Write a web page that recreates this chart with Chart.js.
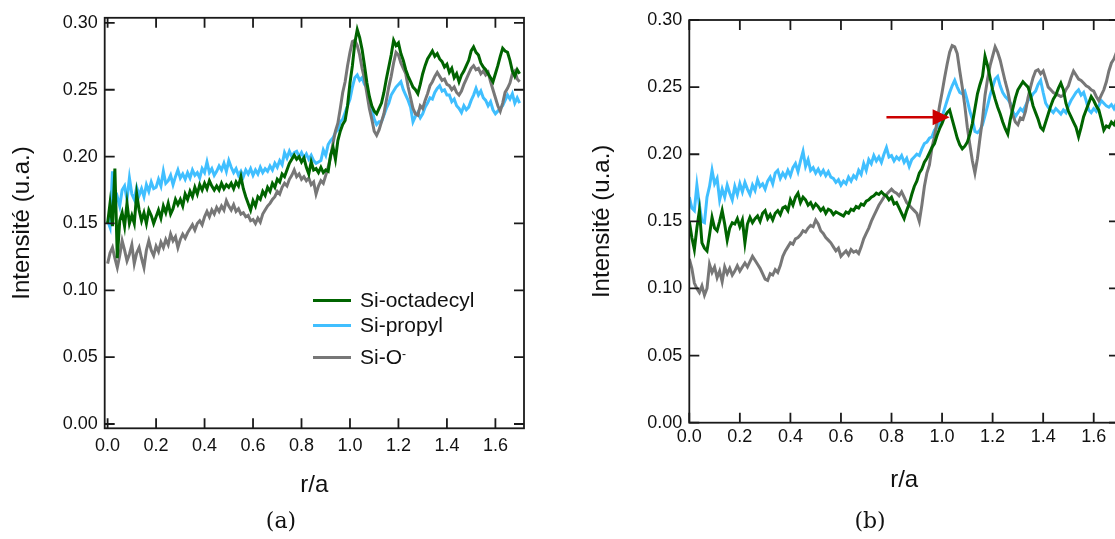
<!DOCTYPE html>
<html>
<head>
<title>Intensité r/a</title>
<script src="https://cdn.jsdelivr.net/npm/chart.js"></script>
<style>
    html, body {
        margin: 0;
        padding: 0;
        width: 1115px;
        height: 539px;
        overflow: hidden;
        background: #fff;
        font-family: "Liberation Sans", Arial, sans-serif;
    }
    canvas { position: absolute; top: 0; }
    #chartA { left: 0; }
    #chartB { left: 580px; }
    .leg {
        position: absolute;
        height: 24px;
        display: flex;
        align-items: center;
        font-size: 21px;
        color: #111;
    }
    .leg span.line {
        display: inline-block;
        width: 38px;
        height: 3px;
        margin-right: 9px;
    }
    .leg sup { font-size: 12px; position: relative; top: -3px; }
    .cap {
        position: absolute;
        top: 508px;
        font-family: "DejaVu Serif", "Liberation Serif", serif;
        font-size: 22px;
        color: #111;
        width: 60px;
        text-align: center;
    }
</style>
</head>
<body>

<canvas id="chartA" width="560" height="539"></canvas>
<canvas id="chartB" width="580" height="539"></canvas>

<div class="leg" style="left:313px; top:288px;"><span class="line" style="background:#006400"></span>Si-octadecyl</div>
<div class="leg" style="left:313px; top:313px;"><span class="line" style="background:#40bfff"></span>Si-propyl</div>
<div class="leg" style="left:313px; top:345px;"><span class="line" style="background:#777777"></span>Si-O<sup>-</sup></div>

<div class="cap" style="left:251px;">(a)</div>
<div class="cap" style="left:840px;">(b)</div>

<script>
// r/a sampling positions (shared by all curves)
var rValues = [
    0.00,0.01,0.02,0.03,0.04,0.05,0.06,0.07,0.08,0.09,
    0.10,0.11,0.12,0.13,0.14,0.15,0.16,0.17,0.18,0.19,
    0.20,0.21,0.22,0.23,0.24,0.25,0.26,0.27,0.28,0.29,
    0.30,0.31,0.32,0.33,0.34,0.35,0.36,0.37,0.38,0.39,
    0.40,0.41,0.42,0.43,0.44,0.45,0.46,0.47,0.48,0.49,
    0.50,0.51,0.52,0.53,0.54,0.55,0.56,0.57,0.58,0.59,
    0.60,0.61,0.62,0.63,0.64,0.65,0.66,0.67,0.68,0.69,
    0.70,0.71,0.72,0.73,0.74,0.75,0.76,0.77,0.78,0.79,
    0.80,0.81,0.82,0.83,0.84,0.85,0.86,0.87,0.88,0.89,
    0.90,0.91,0.92,0.93,0.94,0.95,0.96,0.97,0.98,0.99,
    1.00,1.01,1.02,1.03,1.04,1.05,1.06,1.07,1.08,1.09,
    1.10,1.11,1.12,1.13,1.14,1.15,1.16,1.17,1.18,1.19,
    1.20,1.21,1.22,1.23,1.24,1.25,1.26,1.27,1.28,1.29,
    1.30,1.31,1.32,1.33,1.34,1.35,1.36,1.37,1.38,1.39,
    1.40,1.41,1.42,1.43,1.44,1.45,1.46,1.47,1.48,1.49,
    1.50,1.51,1.52,1.53,1.54,1.55,1.56,1.57,1.58,1.59,
    1.60,1.61,1.62,1.63,1.64,1.65,1.66,1.67,1.68,1.69,
    1.70
];

// panel (a)
var aOctadecyl = [
    0.150,0.165,0.148,0.191,0.124,0.152,0.158,0.148,0.165,0.150,
    0.156,0.150,0.172,0.160,0.152,0.158,0.150,0.160,0.156,0.150,
    0.155,0.160,0.154,0.163,0.158,0.165,0.157,0.161,0.168,0.164,
    0.168,0.163,0.172,0.168,0.174,0.170,0.177,0.172,0.179,0.175,
    0.180,0.176,0.182,0.178,0.175,0.178,0.175,0.180,0.176,0.179,
    0.177,0.180,0.176,0.181,0.178,0.185,0.176,0.170,0.165,0.160,
    0.167,0.163,0.170,0.168,0.174,0.171,0.177,0.174,0.180,0.177,
    0.183,0.181,0.187,0.185,0.190,0.195,0.198,0.201,0.198,0.200,
    0.196,0.199,0.192,0.187,0.196,0.190,0.191,0.188,0.192,0.188,
    0.190,0.189,0.201,0.207,0.198,0.212,0.219,0.224,0.227,0.238,
    0.255,0.268,0.285,0.295,0.289,0.280,0.268,0.255,0.245,0.238,
    0.234,0.232,0.236,0.240,0.248,0.258,0.267,0.276,0.287,0.283,
    0.285,0.277,0.272,0.265,0.260,0.256,0.252,0.250,0.247,0.254,
    0.262,0.268,0.273,0.276,0.279,0.275,0.277,0.273,0.271,0.267,
    0.269,0.263,0.266,0.259,0.262,0.256,0.261,0.264,0.268,0.272,
    0.279,0.282,0.278,0.276,0.270,0.267,0.265,0.262,0.259,0.256,
    0.262,0.268,0.275,0.281,0.279,0.278,0.272,0.264,0.260,0.265,
    0.262
];
var aPropyl = [
    0.152,0.147,0.189,0.165,0.170,0.163,0.175,0.178,0.168,0.184,
    0.172,0.168,0.177,0.171,0.176,0.170,0.179,0.174,0.181,0.176,
    0.177,0.183,0.178,0.189,0.180,0.182,0.186,0.179,0.185,0.190,
    0.184,0.187,0.183,0.188,0.184,0.190,0.186,0.188,0.184,0.191,
    0.188,0.196,0.188,0.191,0.186,0.189,0.193,0.190,0.195,0.189,
    0.197,0.192,0.188,0.191,0.186,0.189,0.185,0.190,0.187,0.191,
    0.186,0.190,0.187,0.192,0.188,0.191,0.189,0.193,0.190,0.195,
    0.192,0.197,0.194,0.203,0.199,0.204,0.200,0.203,0.204,0.200,
    0.203,0.199,0.202,0.198,0.201,0.197,0.195,0.196,0.197,0.205,
    0.201,0.209,0.212,0.214,0.218,0.220,0.226,0.228,0.233,0.238,
    0.243,0.252,0.259,0.261,0.257,0.259,0.254,0.252,0.243,0.236,
    0.228,0.224,0.226,0.226,0.231,0.236,0.240,0.246,0.249,0.252,
    0.254,0.256,0.250,0.246,0.242,0.237,0.226,0.230,0.233,0.229,
    0.232,0.237,0.240,0.244,0.243,0.248,0.251,0.253,0.249,0.250,
    0.246,0.246,0.241,0.243,0.238,0.236,0.233,0.238,0.235,0.237,
    0.242,0.246,0.251,0.246,0.249,0.244,0.242,0.238,0.241,0.235,
    0.232,0.234,0.236,0.238,0.242,0.246,0.243,0.247,0.240,0.244,
    0.240
];
var aSiO = [
    0.120,0.128,0.132,0.124,0.117,0.126,0.137,0.130,0.122,0.127,
    0.134,0.120,0.128,0.132,0.124,0.117,0.130,0.137,0.130,0.126,
    0.133,0.129,0.136,0.132,0.138,0.134,0.142,0.137,0.140,0.132,
    0.138,0.142,0.139,0.143,0.146,0.149,0.145,0.150,0.152,0.149,
    0.155,0.159,0.155,0.160,0.157,0.162,0.159,0.163,0.160,0.167,
    0.163,0.160,0.164,0.159,0.161,0.157,0.158,0.155,0.156,0.152,
    0.153,0.150,0.154,0.151,0.157,0.160,0.163,0.165,0.168,0.170,
    0.174,0.172,0.177,0.180,0.178,0.183,0.186,0.190,0.185,0.187,
    0.183,0.185,0.182,0.184,0.179,0.181,0.172,0.178,0.182,0.180,
    0.186,0.192,0.200,0.210,0.219,0.225,0.236,0.248,0.256,0.268,
    0.278,0.286,0.287,0.283,0.276,0.266,0.258,0.247,0.236,0.228,
    0.219,0.216,0.220,0.226,0.232,0.242,0.252,0.260,0.270,0.278,
    0.276,0.270,0.266,0.262,0.252,0.244,0.236,0.232,0.231,0.238,
    0.236,0.242,0.247,0.253,0.256,0.260,0.263,0.260,0.257,0.258,
    0.254,0.253,0.250,0.252,0.248,0.246,0.249,0.254,0.258,0.262,
    0.266,0.268,0.265,0.266,0.262,0.264,0.261,0.263,0.256,0.250,
    0.244,0.238,0.234,0.240,0.248,0.251,0.255,0.262,0.264,0.258,
    0.256
];

// panel (b)
var bOctadecyl = [
    0.150,0.138,0.129,0.145,0.158,0.134,0.130,0.128,0.140,0.153,
    0.145,0.143,0.150,0.158,0.148,0.136,0.145,0.149,0.148,0.152,
    0.146,0.151,0.134,0.148,0.153,0.149,0.152,0.154,0.150,0.156,
    0.158,0.152,0.155,0.151,0.156,0.158,0.155,0.160,0.161,0.158,
    0.166,0.162,0.168,0.171,0.164,0.168,0.166,0.162,0.164,0.160,
    0.163,0.161,0.158,0.160,0.156,0.159,0.158,0.155,0.157,0.156,
    0.155,0.154,0.157,0.156,0.159,0.158,0.161,0.160,0.163,0.162,
    0.165,0.166,0.168,0.169,0.171,0.170,0.172,0.170,0.169,0.166,
    0.168,0.163,0.164,0.160,0.156,0.152,0.158,0.163,0.170,0.176,
    0.180,0.186,0.189,0.194,0.197,0.201,0.205,0.208,0.214,0.219,
    0.223,0.228,0.231,0.233,0.226,0.219,0.212,0.207,0.204,0.206,
    0.209,0.215,0.223,0.234,0.245,0.252,0.258,0.273,0.266,0.257,
    0.248,0.241,0.235,0.230,0.224,0.219,0.215,0.226,0.234,0.242,
    0.248,0.251,0.254,0.252,0.250,0.244,0.236,0.231,0.226,0.220,
    0.218,0.224,0.230,0.236,0.241,0.244,0.249,0.253,0.248,0.238,
    0.232,0.228,0.224,0.220,0.213,0.220,0.228,0.233,0.238,0.243,
    0.240,0.236,0.233,0.226,0.218,0.221,0.220,0.224,0.222,0.226,
    0.224
];
var bPropyl = [
    0.168,0.160,0.158,0.177,0.162,0.150,0.149,0.168,0.176,0.188,
    0.178,0.182,0.166,0.174,0.168,0.177,0.171,0.166,0.176,0.170,
    0.178,0.172,0.179,0.174,0.170,0.177,0.173,0.181,0.176,0.178,
    0.174,0.180,0.183,0.178,0.186,0.188,0.182,0.186,0.183,0.188,
    0.184,0.190,0.193,0.187,0.195,0.202,0.191,0.196,0.188,0.190,
    0.186,0.189,0.185,0.188,0.184,0.187,0.183,0.182,0.179,0.181,
    0.177,0.180,0.178,0.183,0.180,0.184,0.182,0.188,0.185,0.193,
    0.188,0.196,0.193,0.199,0.195,0.198,0.194,0.200,0.205,0.198,
    0.199,0.195,0.198,0.196,0.199,0.194,0.197,0.191,0.196,0.198,
    0.200,0.199,0.204,0.208,0.209,0.212,0.213,0.218,0.220,0.223,
    0.228,0.234,0.240,0.246,0.251,0.255,0.250,0.246,0.245,0.247,
    0.240,0.232,0.226,0.217,0.216,0.218,0.222,0.229,0.236,0.244,
    0.250,0.256,0.258,0.251,0.246,0.243,0.241,0.238,0.232,0.228,
    0.231,0.234,0.232,0.236,0.240,0.242,0.245,0.247,0.252,0.255,
    0.246,0.238,0.235,0.233,0.231,0.234,0.232,0.230,0.233,0.231,
    0.236,0.240,0.243,0.246,0.248,0.244,0.246,0.240,0.233,0.231,
    0.234,0.232,0.236,0.240,0.238,0.236,0.235,0.237,0.234,0.238,
    0.236
];
var bSiO = [
    0.122,0.115,0.104,0.100,0.097,0.102,0.095,0.100,0.118,0.112,
    0.116,0.108,0.113,0.105,0.116,0.111,0.115,0.110,0.113,0.117,
    0.113,0.116,0.119,0.116,0.120,0.124,0.121,0.118,0.115,0.111,
    0.107,0.106,0.111,0.110,0.114,0.112,0.117,0.124,0.128,0.131,
    0.134,0.133,0.137,0.138,0.140,0.143,0.142,0.145,0.147,0.146,
    0.151,0.148,0.143,0.141,0.138,0.136,0.134,0.131,0.128,0.130,
    0.124,0.126,0.128,0.125,0.129,0.127,0.128,0.126,0.131,0.137,
    0.141,0.145,0.150,0.154,0.158,0.162,0.165,0.168,0.170,0.172,
    0.174,0.172,0.171,0.169,0.172,0.168,0.164,0.162,0.160,0.158,
    0.156,0.150,0.162,0.176,0.186,0.192,0.205,0.213,0.224,0.236,
    0.246,0.257,0.267,0.276,0.281,0.280,0.275,0.262,0.250,0.236,
    0.220,0.207,0.195,0.186,0.197,0.212,0.226,0.244,0.256,0.266,
    0.273,0.280,0.276,0.270,0.262,0.254,0.247,0.237,0.229,0.224,
    0.222,0.227,0.226,0.232,0.242,0.250,0.257,0.262,0.263,0.260,
    0.262,0.256,0.250,0.248,0.246,0.245,0.244,0.243,0.244,0.248,
    0.251,0.257,0.262,0.259,0.256,0.255,0.253,0.251,0.250,0.248,
    0.247,0.243,0.240,0.244,0.248,0.254,0.262,0.268,0.271,0.276,
    0.278
];

var xTicks = [0.0, 0.2, 0.4, 0.6, 0.8, 1.0, 1.2, 1.4, 1.6];
var yTicks = [0.00, 0.05, 0.10, 0.15, 0.20, 0.25, 0.30];

// red arrow in panel (b), in data units
var arrowFrom = { x: 0.78, y: 0.2275 };
var arrowTo = { x: 1.03, y: 0.2275 };

var GREEN = '#006400', BLUE = '#40bfff', GREY = '#777777', INK = '#1a1a1a';

function points(ys) {
    return rValues.map(function (r, i) { return { x: r, y: ys[i] }; });
}

// box frame with inward ticks on all four sides
var framePlugin = {
    id: 'frame',
    afterDatasetsDraw: function (chart) {
        var ctx = chart.ctx, a = chart.chartArea;
        var xs = chart.scales.x, ys = chart.scales.y;
        var len = 10;
        ctx.save();
        ctx.strokeStyle = INK;
        ctx.lineWidth = 1.8;
        ctx.strokeRect(a.left, a.top, a.right - a.left, a.bottom - a.top);
        ctx.beginPath();
        xs.ticks.forEach(function (t) {
            var p = xs.getPixelForValue(t.value);
            ctx.moveTo(p, a.bottom); ctx.lineTo(p, a.bottom - len);
            ctx.moveTo(p, a.top); ctx.lineTo(p, a.top + len);
        });
        ys.ticks.forEach(function (t) {
            var p = ys.getPixelForValue(t.value);
            ctx.moveTo(a.left, p); ctx.lineTo(a.left + len, p);
            ctx.moveTo(a.right, p); ctx.lineTo(a.right - len, p);
        });
        ctx.stroke();
        ctx.restore();
    }
};

var arrowPlugin = {
    id: 'arrow',
    afterDatasetsDraw: function (chart) {
        if (!chart.options.plugins.arrow) return;
        var ctx = chart.ctx, xs = chart.scales.x, ys = chart.scales.y;
        var x0 = xs.getPixelForValue(arrowFrom.x), y0 = ys.getPixelForValue(arrowFrom.y);
        var x1 = xs.getPixelForValue(arrowTo.x), y1 = ys.getPixelForValue(arrowTo.y);
        var head = 17, half = 8;
        ctx.save();
        ctx.strokeStyle = '#cc0000';
        ctx.fillStyle = '#cc0000';
        ctx.lineWidth = 2.5;
        ctx.beginPath();
        ctx.moveTo(x0, y0);
        ctx.lineTo(x1 - head + 1, y1);
        ctx.stroke();
        ctx.beginPath();
        ctx.moveTo(x1, y1);
        ctx.lineTo(x1 - head, y1 - half);
        ctx.lineTo(x1 - head, y1 + half);
        ctx.closePath();
        ctx.fill();
        ctx.restore();
    }
};

function makePanel(id, cfg) {
    var ctx = document.getElementById(id).getContext('2d');
    var fontFam = '"Liberation Sans", Arial, sans-serif';
    return new Chart(ctx, {
        type: 'line',
        data: {
            datasets: [
                { label: 'Si-octadecyl', data: points(cfg.octa), borderColor: GREEN, borderWidth: 3 },
                { label: 'Si-O-', data: points(cfg.sio), borderColor: GREY, borderWidth: 3 },
                { label: 'Si-propyl', data: points(cfg.prop), borderColor: BLUE, borderWidth: 3 }
            ]
        },
        options: {
            responsive: false,
            animation: false,
            elements: {
                point: { radius: 0 },
                line: { tension: 0, borderJoinStyle: 'miter', borderCapStyle: 'butt' }
            },
            layout: { padding: { left: 0, top: cfg.top, right: cfg.right, bottom: 0 } },
            plugins: {
                legend: { display: false },
                tooltip: { enabled: false },
                arrow: cfg.arrow
            },
            scales: {
                x: {
                    type: 'linear',
                    min: cfg.xMin,
                    max: cfg.xMax,
                    grid: { display: false, drawTicks: false },
                    border: { display: false },
                    afterBuildTicks: function (s) { s.ticks = xTicks.map(function (v) { return { value: v }; }); },
                    afterFit: function (s) { s.height = cfg.xHeight; },
                    ticks: {
                        autoSkip: false, maxRotation: 0, padding: cfg.xPad,
                        color: '#111', font: { family: fontFam, size: 18 },
                        callback: function (v) { return v.toFixed(1); }
                    },
                    title: {
                        display: true, text: 'r/a', color: '#111',
                        font: { family: fontFam, size: 24 },
                        padding: { top: 0, bottom: cfg.xTitlePad }
                    }
                },
                y: {
                    type: 'linear',
                    min: cfg.yMin,
                    max: cfg.yMax,
                    grid: { display: false, drawTicks: false },
                    border: { display: false },
                    afterBuildTicks: function (s) { s.ticks = yTicks.map(function (v) { return { value: v }; }); },
                    afterFit: function (s) { s.width = cfg.yWidth; },
                    ticks: {
                        padding: 7,
                        color: '#111', font: { family: fontFam, size: 18 },
                        callback: function (v) { return v.toFixed(2); }
                    },
                    title: {
                        display: true, text: 'Intensité (u.a.)', color: '#111',
                        font: { family: fontFam, size: 24 },
                        padding: { top: 8, bottom: 0 }
                    }
                }
            }
        },
        plugins: [framePlugin, arrowPlugin]
    });
}

makePanel('chartA', {
    octa: aOctadecyl, prop: aPropyl, sio: aSiO,
    xMin: -0.012, xMax: 1.718, yMin: -0.0032, yMax: 0.3038,
    top: 15.7, right: 36, yWidth: 104.7, xHeight: 110.7,
    xPad: 7.4, xTitlePad: 39.6, arrow: false
});

makePanel('chartB', {
    octa: bOctadecyl, prop: bPropyl, sio: bSiO,
    xMin: 0, xMax: 1.70, yMin: 0, yMax: 0.30,
    top: 20, right: 41, yWidth: 109.3, xHeight: 116.3,
    xPad: 3.7, xTitlePad: 44.6, arrow: true
});
</script>
</body>
</html>
